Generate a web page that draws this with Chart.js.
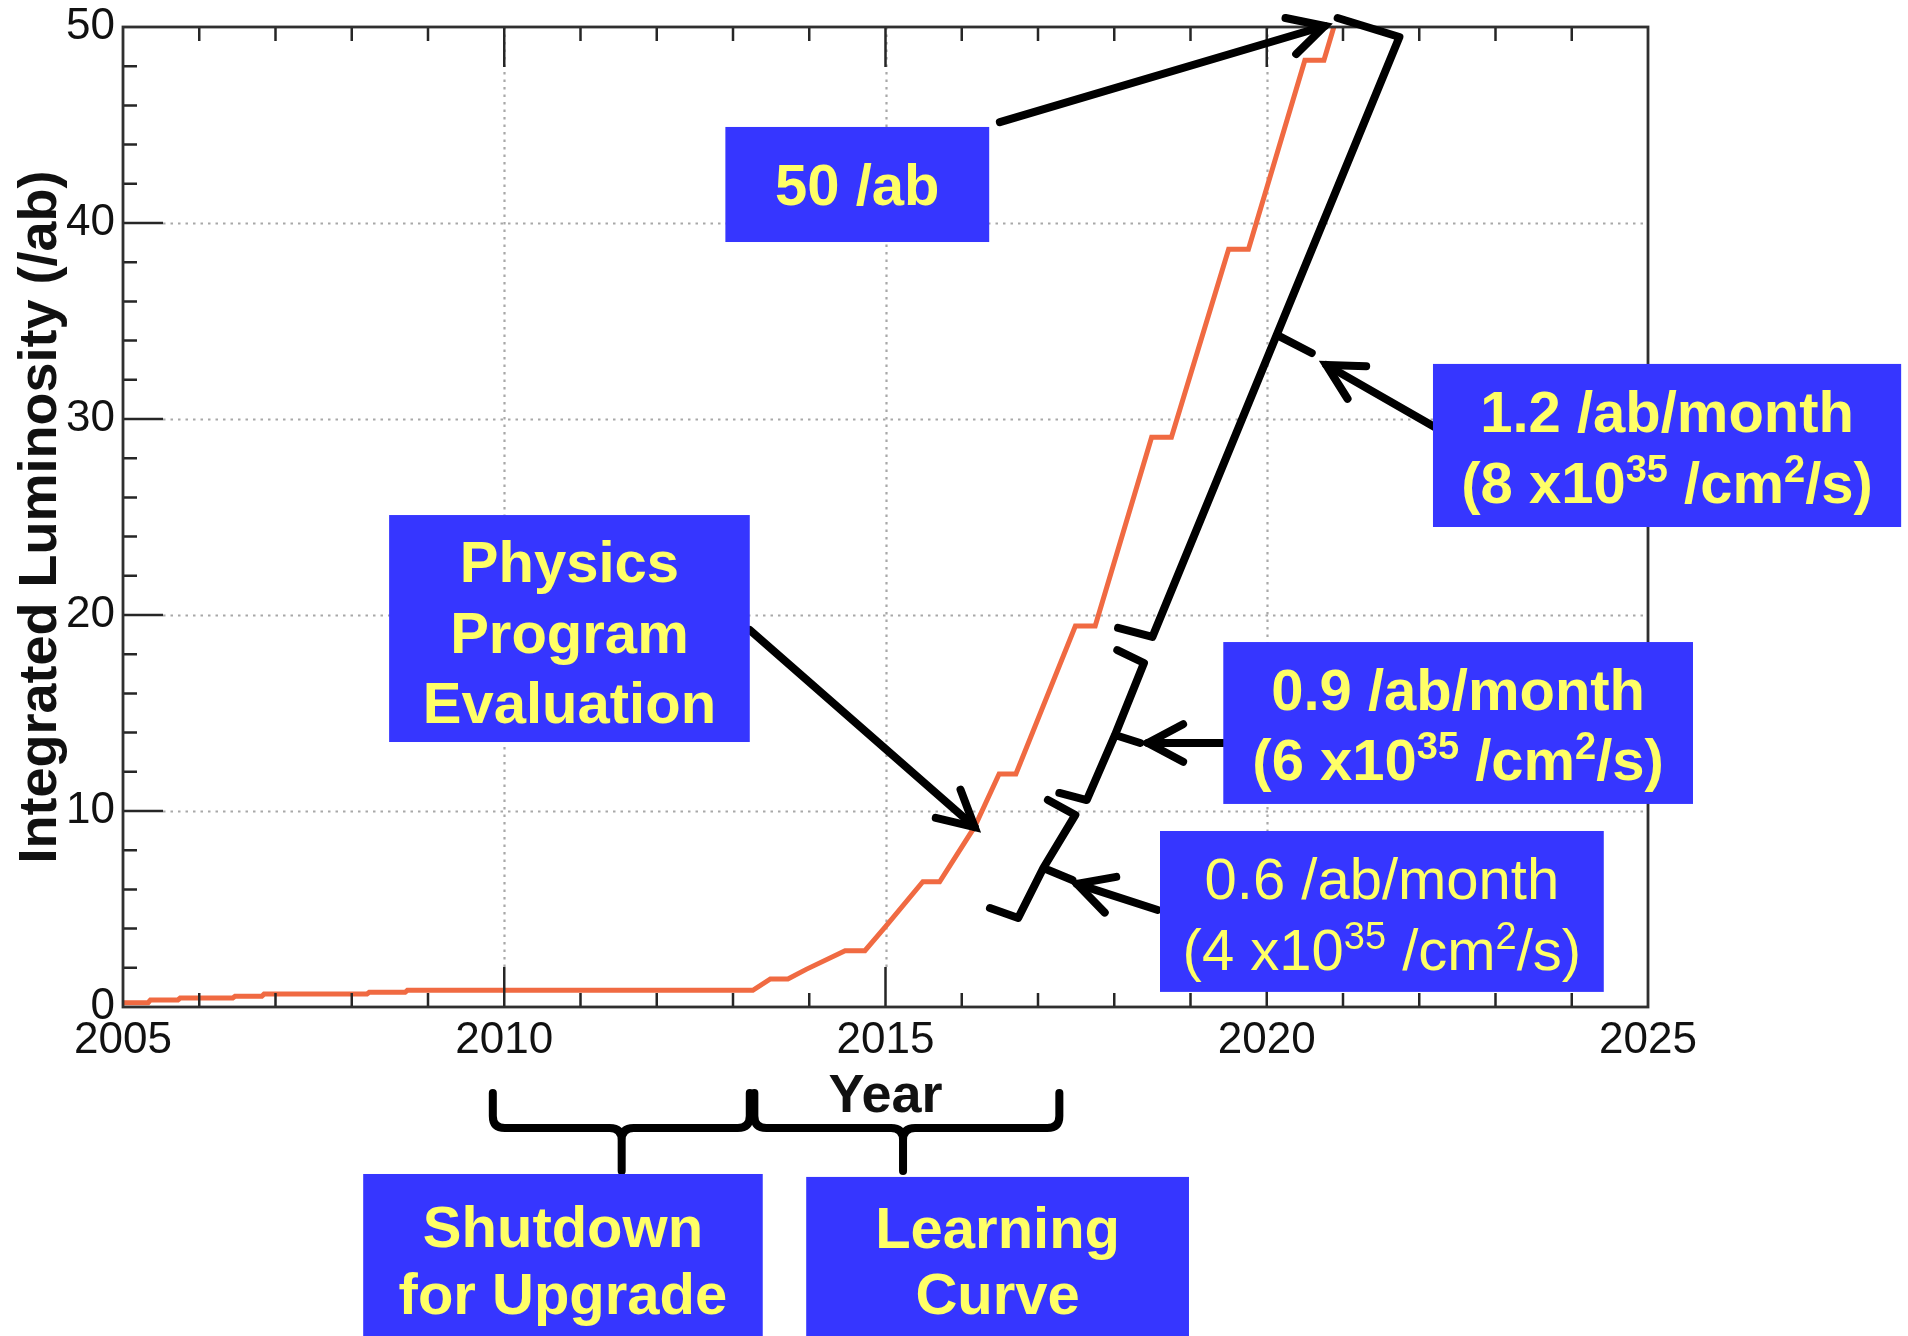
<!DOCTYPE html>
<html>
<head>
<meta charset="utf-8">
<title>Integrated Luminosity Projection</title>
<script src="https://cdn.jsdelivr.net/npm/chart.js@4"></script>
<style>
  html, body { margin: 0; padding: 0; background: #ffffff; }
  canvas { display: block; }
</style>
</head>
<body>
<canvas id="lumi" width="1908" height="1336" style="width:1908px;height:1336px"></canvas>
<script>
// ---- Data: cumulative integrated luminosity (/ab) versus calendar year ----
const years = [2005.00, 2005.33, 2005.36, 2005.72, 2005.75, 2006.44, 2006.47, 2006.82, 2006.85,
               2008.20, 2008.23, 2008.70, 2008.73, 2013.26, 2013.49, 2013.72, 2013.96, 2014.47,
               2014.73, 2015.00, 2015.49, 2015.71, 2016.17, 2016.49, 2016.71, 2017.49, 2017.75,
               2018.49, 2018.75, 2019.50, 2019.76, 2020.50, 2020.75, 2020.88];
const lumi  = [0.22, 0.22, 0.36, 0.36, 0.46, 0.46, 0.55, 0.55, 0.66,
               0.66, 0.75, 0.75, 0.85, 0.85, 1.43, 1.43, 1.92, 2.87,
               2.87, 4.10, 6.39, 6.39, 9.20, 11.89, 11.89, 19.44, 19.44,
               29.07, 29.07, 38.66, 38.66, 48.30, 48.30, 50.00];

// ---- Axis ticks ----
const yearTicks = [2005, 2010, 2015, 2020, 2025];
const lumiTicks = [0, 10, 20, 30, 40, 50];

// ---- Annotation texts ----
const goalLabel     = ['50 /ab'];
const physicsLabel  = ['Physics', 'Program', 'Evaluation'];
const rateHighLabel = ['1.2 /ab/month', ['(8 x10', {sup: '35'}, ' /cm', {sup: '2'}, '/s)']];
const rateMidLabel  = ['0.9 /ab/month', ['(6 x10', {sup: '35'}, ' /cm', {sup: '2'}, '/s)']];
const rateLowLabel  = ['0.6 /ab/month', ['(4 x10', {sup: '35'}, ' /cm', {sup: '2'}, '/s)']];
const shutdownLabel = ['Shutdown', 'for Upgrade'];
const learningLabel = ['Learning', 'Curve'];

const FAMILY = "'Liberation Sans', Arial, Helvetica, sans-serif";
const BOX_BLUE = '#3636FF';
const TEXT_YELLOW = '#FFFF66';
const CURVE_COLOR = '#F06A42';

// Annotation layout, expressed in axis units [year, /ab]
const boxes = [
  { rect: [2012.90, 44.90, 2016.36, 39.03], lines: goalLabel,     base: [40.90], bold: true },
  { rect: [2008.49, 25.10, 2013.22, 13.52], lines: physicsLabel,  base: [21.68, 18.06, 14.49], bold: true },
  { rect: [2022.18, 32.81, 2028.32, 24.49], lines: rateHighLabel, base: [29.34, 25.71], bold: true },
  { rect: [2019.43, 18.62, 2025.59, 10.36], lines: rateMidLabel,  base: [15.15, 11.58], bold: true },
  { rect: [2018.60, 8.98, 2024.42, 0.77],   lines: rateLowLabel,  base: [5.50, 1.90],   bold: false },
  { rect: [2008.15, -8.52, 2013.39, -17.5], lines: shutdownLabel, base: [-12.24, -15.66], bold: true },
  { rect: [2013.96, -8.67, 2018.98, -17.5], lines: learningLabel, base: [-12.30, -15.66], bold: true }
];

const arrows = [
  { from: [2016.50, 45.15], to: [2020.76, 50.05] },
  { from: [2022.27, 29.44], to: [2020.78, 32.76] },
  { from: [2019.43, 13.47], to: [2018.44, 13.47] },
  { from: [2018.57, 4.95],  to: [2017.51, 6.28] },
  { from: [2013.22, 19.23], to: [2016.17, 9.18] }
];

// Slanted braces along the rising curve: hook, corner, middle, corner, hook, nib
const slantBraces = [
  { pts: [[2020.93, 50.46], [2021.74, 49.49], [2020.13, 34.29], [2018.50, 18.88], [2018.05, 19.34]], nib: [2020.59, 33.37] },
  { pts: [[2018.04, 18.21], [2018.39, 17.55], [2018.01, 13.88], [2017.64, 10.56], [2017.28, 10.92]], nib: [2018.34, 13.47] },
  { pts: [[2017.13, 10.56], [2017.49, 9.80],  [2017.07, 7.09],  [2016.74, 4.54],  [2016.37, 5.05]],  nib: [2017.45, 6.48] }
];

// Horizontal braces under the year axis
const yearBraces = [
  { left: 2009.85, right: 2013.22, mid: 2011.54 },
  { left: 2013.28, right: 2017.28, mid: 2015.23 }
];
const braceTop = -4.39, braceBar = -6.17, braceTip = -8.37;

// ---- Plugin: dotted grid, inward ticks and frame ----
const framePlugin = {
  id: 'framePlugin',
  beforeDatasetsDraw(chart) {
    const { ctx, chartArea: a, scales: { x, y } } = chart;
    ctx.save();
    ctx.strokeStyle = '#a8a8a8';
    ctx.lineWidth = 2.2;
    ctx.setLineDash([2.5, 5]);
    yearTicks.slice(1, -1).forEach(t => {
      const px = Math.round(x.getPixelForValue(t)) + 0.5;
      ctx.beginPath(); ctx.moveTo(px, a.top); ctx.lineTo(px, a.bottom - 40); ctx.stroke();
    });
    lumiTicks.slice(1, -1).forEach(v => {
      const py = Math.round(y.getPixelForValue(v)) + 0.5;
      ctx.beginPath(); ctx.moveTo(a.left + 40, py); ctx.lineTo(a.right, py); ctx.stroke();
    });
    ctx.restore();
  },
  afterDatasetsDraw(chart) {
    const { ctx, chartArea: a, scales: { x, y } } = chart;
    ctx.save();
    ctx.strokeStyle = '#262626';
    ctx.lineWidth = 2.5;
    ctx.beginPath();
    for (let t = yearTicks[0] + 1; t < yearTicks[yearTicks.length - 1]; t++) {
      const len = yearTicks.includes(t) ? 40 : 14;
      const px = x.getPixelForValue(t);
      ctx.moveTo(px, a.bottom); ctx.lineTo(px, a.bottom - len);
      ctx.moveTo(px, a.top); ctx.lineTo(px, a.top + len);
    }
    for (let v = lumiTicks[0] + 2; v < lumiTicks[lumiTicks.length - 1]; v += 2) {
      const len = lumiTicks.includes(v) ? 40 : 14;
      const py = y.getPixelForValue(v);
      ctx.moveTo(a.left, py); ctx.lineTo(a.left + len, py);
    }
    ctx.stroke();
    ctx.strokeStyle = '#303030';
    ctx.lineWidth = 2.8;
    ctx.strokeRect(a.left, a.top, a.right - a.left, a.bottom - a.top);
    ctx.restore();
  }
};

// ---- Plugin: callout boxes, arrows and braces ----
function drawRuns(ctx, runs, cx, by, size, weight) {
  const main = `${weight} ${size}px ${FAMILY}`;
  const small = `${weight} ${Math.round(size * 0.65)}px ${FAMILY}`;
  const list = (typeof runs === 'string') ? [runs] : runs;
  let total = 0;
  const parts = list.map(r => {
    const sup = typeof r !== 'string';
    const text = sup ? r.sup : r;
    ctx.font = sup ? small : main;
    const w = ctx.measureText(text).width;
    total += w;
    return { text, sup, w };
  });
  let cur = cx - total / 2;
  ctx.textAlign = 'left';
  ctx.textBaseline = 'alphabetic';
  parts.forEach(p => {
    ctx.font = p.sup ? small : main;
    ctx.fillText(p.text, cur, p.sup ? by - size * 0.36 : by);
    cur += p.w;
  });
}

const calloutPlugin = {
  id: 'calloutPlugin',
  afterDraw(chart) {
    const { ctx, scales: { x, y } } = chart;
    const P = p => [x.getPixelForValue(p[0]), y.getPixelForValue(p[1])];
    ctx.save();
    ctx.strokeStyle = '#000000';
    ctx.lineWidth = 8;
    ctx.lineCap = 'round';
    ctx.lineJoin = 'round';

    // slanted braces
    slantBraces.forEach(b => {
      const pts = b.pts.map(P);
      ctx.beginPath();
      ctx.moveTo(pts[0][0], pts[0][1]);
      for (let i = 1; i < pts.length; i++) ctx.lineTo(pts[i][0], pts[i][1]);
      const n = P(b.nib);
      ctx.moveTo(pts[2][0], pts[2][1]);
      ctx.lineTo(n[0], n[1]);
      ctx.stroke();
    });

    // braces below the year axis
    const yTop = y.getPixelForValue(braceTop);
    const yBar = y.getPixelForValue(braceBar);
    const yTip = y.getPixelForValue(braceTip);
    const r = 12;
    yearBraces.forEach(b => {
      const xl = x.getPixelForValue(b.left), xr = x.getPixelForValue(b.right), xm = x.getPixelForValue(b.mid);
      ctx.beginPath();
      ctx.moveTo(xl, yTop); ctx.lineTo(xl, yBar - r);
      ctx.quadraticCurveTo(xl, yBar, xl + r, yBar);
      ctx.lineTo(xm - r, yBar);
      ctx.quadraticCurveTo(xm, yBar, xm, yBar + r);
      ctx.lineTo(xm, yTip);
      ctx.moveTo(xr, yTop); ctx.lineTo(xr, yBar - r);
      ctx.quadraticCurveTo(xr, yBar, xr - r, yBar);
      ctx.lineTo(xm + r, yBar);
      ctx.quadraticCurveTo(xm, yBar, xm, yBar + r);
      ctx.stroke();
    });

    // arrows with open heads
    ctx.lineJoin = 'miter';
    ctx.miterLimit = 4;
    arrows.forEach(a => {
      const s = P(a.from), e = P(a.to);
      const th = Math.atan2(s[1] - e[1], s[0] - e[0]);
      const len = 40, ang = 28 * Math.PI / 180;
      ctx.beginPath();
      ctx.moveTo(s[0], s[1]); ctx.lineTo(e[0], e[1]);
      ctx.stroke();
      ctx.beginPath();
      ctx.moveTo(e[0] + len * Math.cos(th + ang), e[1] + len * Math.sin(th + ang));
      ctx.lineTo(e[0], e[1]);
      ctx.lineTo(e[0] + len * Math.cos(th - ang), e[1] + len * Math.sin(th - ang));
      ctx.stroke();
    });

    // callout boxes
    boxes.forEach(b => {
      const p1 = P([b.rect[0], b.rect[1]]), p2 = P([b.rect[2], b.rect[3]]);
      ctx.fillStyle = BOX_BLUE;
      ctx.fillRect(p1[0], p1[1], p2[0] - p1[0], p2[1] - p1[1]);
      ctx.fillStyle = TEXT_YELLOW;
      const cx = (p1[0] + p2[0]) / 2;
      b.lines.forEach((ln, i) => {
        drawRuns(ctx, ln, cx, y.getPixelForValue(b.base[i]), 58, b.bold ? 'bold' : 'normal');
      });
    });
    ctx.restore();
  }
};

new Chart(document.getElementById('lumi'), {
  type: 'line',
  data: {
    datasets: [{
      label: 'Integrated Luminosity',
      data: years.map((t, i) => ({ x: t, y: lumi[i] })),
      borderColor: CURVE_COLOR,
      borderWidth: 5,
      pointRadius: 0,
      tension: 0,
      fill: false
    }]
  },
  options: {
    responsive: false,
    animation: false,
    events: [],
    layout: { padding: { top: 27, right: 260, bottom: 0, left: 0 } },
    plugins: { legend: { display: false }, tooltip: { enabled: false } },
    scales: {
      x: {
        type: 'linear',
        min: yearTicks[0],
        max: yearTicks[yearTicks.length - 1],
        afterBuildTicks: s => { s.ticks = yearTicks.map(v => ({ value: v })); },
        ticks: {
          color: '#111111',
          font: { family: FAMILY, size: 44 },
          padding: 7,
          maxRotation: 0,
          autoSkip: false,
          callback: v => String(v)
        },
        grid: { display: false, drawTicks: false },
        border: { display: false },
        title: {
          display: true,
          text: 'Year',
          color: '#111111',
          font: { family: FAMILY, size: 54, weight: 'bold' },
          padding: { top: 0, bottom: 206 }
        },
        afterFit: s => { s.height = 329; s.paddingLeft = 0; s.paddingRight = 0; }
      },
      y: {
        type: 'linear',
        min: lumiTicks[0],
        max: lumiTicks[lumiTicks.length - 1],
        afterBuildTicks: s => { s.ticks = lumiTicks.map(v => ({ value: v })); },
        ticks: {
          color: '#111111',
          font: { family: FAMILY, size: 44 },
          padding: 8,
          callback: v => String(v)
        },
        grid: { display: false, drawTicks: false },
        border: { display: false },
        title: {
          display: true,
          text: 'Integrated Luminosity (/ab)',
          color: '#111111',
          font: { family: FAMILY, size: 54, weight: 'bold' },
          padding: { top: 9, bottom: 0 }
        },
        afterFit: s => { s.width = 123; s.paddingTop = 0; s.paddingBottom = 0; }
      }
    }
  },
  plugins: [framePlugin, calloutPlugin]
});
</script>
</body>
</html>
